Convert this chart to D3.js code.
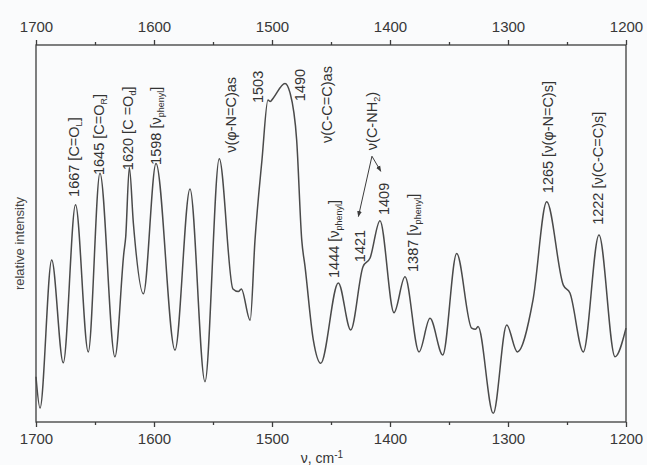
<!DOCTYPE html>
<html><head><meta charset="utf-8">
<script src="https://cdn.jsdelivr.net/npm/d3@7/dist/d3.min.js"></script>
<style>
html,body{margin:0;padding:0;background:#fafbfc;}
svg{display:block;font-family:"Liberation Sans",Arial,sans-serif;}
</style></head>
<body><svg id="c" width="647" height="465"></svg>
<script>
// wavenumber (cm-1) of curve extrema / shape points
const wavenumber = [1700,1696.6,1686.7,1676.9,1666.5,1655.7,1645.8,1633.1,1625.5,1624,1620.9,1617.5,1609,1598.3,1582.2,1569.5,1556.8,1544.7,1533.1,1528.5,1526,1518.5,1514.4,1508.5,1503.4,1501.5,1499,1489,1484.7,1479.1,1474.8,1472,1465,1458.7,1443.8,1433.3,1422.9,1416.9,1408.5,1396.6,1387.3,1375.4,1366.1,1355.3,1343.5,1330.8,1327.5,1325.4,1312.5,1301.1,1292.1,1278.8,1267.2,1253.1,1247.5,1236.2,1222.9,1209.3,1200];
const intensity  = [12,3.7,43.0,15.7,57.6,18.6,66.0,17.3,45.0,49.0,67.5,52.8,34.0,68.6,19.1,61.8,10.7,69.8,35.3,34.6,35.3,27.0,48.3,69.5,85.4,85.0,85.9,89.8,87.3,74.8,48.3,41.2,21.8,15.6,36.9,24.4,41.2,43.5,53.4,29.0,38.5,18.6,27.5,17.8,44.7,24.9,24.6,25.3,2.3,25.7,18.6,32.4,58.4,36.3,34.2,18.6,49.6,17.3,24.9];
const xTicks = [1700,1600,1500,1400,1300,1200];
const xMinorTicks = [1650,1550,1450,1350,1250];
const xLabel = "ν, cm";
const yLabel = "relative intensity";
// annotation texts: [parts], anchored at wavenumber / intensity
const annText = [
  [["1667 [C=O",""],["L","sub"],["]",""]],
  [["1645 [C=O",""],["R","sub"],["]",""]],
  [["1620 [C =O",""],["d","sub"],["]",""]],
  [["1598 [ν",""],["phenyl","sub"],["]",""]],
  [["ν(φ-N=C)as",""]],
  [["1503",""]],
  [["1490",""]],
  [["ν(C-C=C)as",""]],
  [["ν(C-NH",""],["2","sub"],[")",""]],
  [["1444 [ν",""],["phenyl","sub"],["]",""]],
  [["1421",""]],
  [["1409",""]],
  [["1387 [ν",""],["phenyl","sub"],["]",""]],
  [["1265 [ν(φ-N=C)s]",""]],
  [["1222 [ν(C-C=C)s]",""]]
];
const annWave = [1667.8,1646.6,1622,1598.3,1534.7,1511.9,1476.3,1453.4,1415.3,1447.5,1425.4,1405,1380.5,1266.1,1223.7];
const annInt  = [59.7,65.5,66.8,68.2,71.4,84.6,85.1,74.0,72.1,38.2,42.4,54.9,39.8,60.7,52.3];
const arrowFrom = [[1415.3,70.5],[1415.3,70.5]];
const arrowTo   = [[1426.8,54.5],[1407.8,66.5]];

const W=647,H=465, L=36,R=626,T=45,B=422;
const svg=d3.select("#c");
const x=d3.scaleLinear().domain([1700,1200]).range([L,R]);
const y=d3.scaleLinear().domain([0,100]).range([B,T]);
const ink="#3c3c3c";

svg.append("defs").append("marker").attr("id","ah").attr("viewBox","0 0 10 10")
  .attr("refX",9).attr("refY",5).attr("markerWidth",6).attr("markerHeight",6).attr("orient","auto")
  .append("path").attr("d","M0,1 L10,5 L0,9 z").attr("fill",ink);

// frame
svg.append("rect").attr("x",L).attr("y",T).attr("width",R-L).attr("height",B-T)
  .attr("fill","none").attr("stroke",ink).attr("stroke-width",1.3);

const axB=d3.axisBottom(x).tickValues(xTicks).tickSize(5).tickPadding(6).tickFormat(d3.format("d"));
const axT=d3.axisTop(x).tickValues(xTicks).tickSize(5).tickPadding(8).tickFormat(d3.format("d"));
function styleAx(g){
  g.select(".domain").remove();
  g.selectAll("line").attr("stroke",ink).attr("stroke-width",1.3);
  g.selectAll("text").attr("fill","#383838").attr("font-size",15).attr("font-family","'Liberation Sans',Arial,sans-serif");
}
svg.append("g").attr("transform",`translate(0,${B})`).call(axB).call(styleAx);
svg.append("g").attr("transform",`translate(0,${T})`).call(axT).call(styleAx);
svg.append("g").attr("transform",`translate(0,${B})`).call(d3.axisBottom(x).tickValues(xMinorTicks).tickSize(3).tickFormat("")).call(styleAx);
svg.append("g").attr("transform",`translate(0,${T})`).call(d3.axisTop(x).tickValues(xMinorTicks).tickSize(3).tickFormat("")).call(styleAx);

// axis labels
const xl=svg.append("text").attr("x",322).attr("y",463).attr("text-anchor","middle")
  .attr("font-size",14).attr("fill","#333");
xl.append("tspan").text(xLabel);
xl.append("tspan").attr("baseline-shift","super").attr("font-size",10).text("-1");
svg.append("text").attr("transform",`translate(19,${(T+B)/2+10}) rotate(-90)`)
  .attr("text-anchor","middle").attr("dominant-baseline","central")
  .attr("font-size",13).attr("fill","#444").text(yLabel);

// curve
const pts=wavenumber.map((w,i)=>[w,intensity[i]]);
const line=d3.line().x(d=>x(d[0])).y(d=>y(d[1])).curve(d3.curveMonotoneX);
svg.append("path").attr("d",line(pts.slice().reverse())).attr("fill","none")
  .attr("stroke","#4a4a4a").attr("stroke-width",1.5).attr("stroke-linejoin","round");

// annotations
annText.forEach((parts,i)=>{
  const t=svg.append("text")
    .attr("transform",`translate(${x(annWave[i])},${y(annInt[i])}) rotate(-90)`)
    .attr("text-anchor","start").attr("dominant-baseline","central")
    .attr("font-family","'Liberation Sans',Arial,sans-serif")
    .attr("font-size",14.5).attr("fill","#333");
  parts.forEach(p=>{
    const s=t.append("tspan").text(p[0]);
    if(p[1]==="sub") s.attr("baseline-shift","sub").attr("font-size",9);
  });
});
arrowFrom.forEach((f,i)=>{
  svg.append("line").attr("x1",x(f[0])).attr("y1",y(f[1])).attr("x2",x(arrowTo[i][0])).attr("y2",y(arrowTo[i][1]))
    .attr("stroke",ink).attr("stroke-width",1).attr("marker-end","url(#ah)");
});
</script></body></html>
